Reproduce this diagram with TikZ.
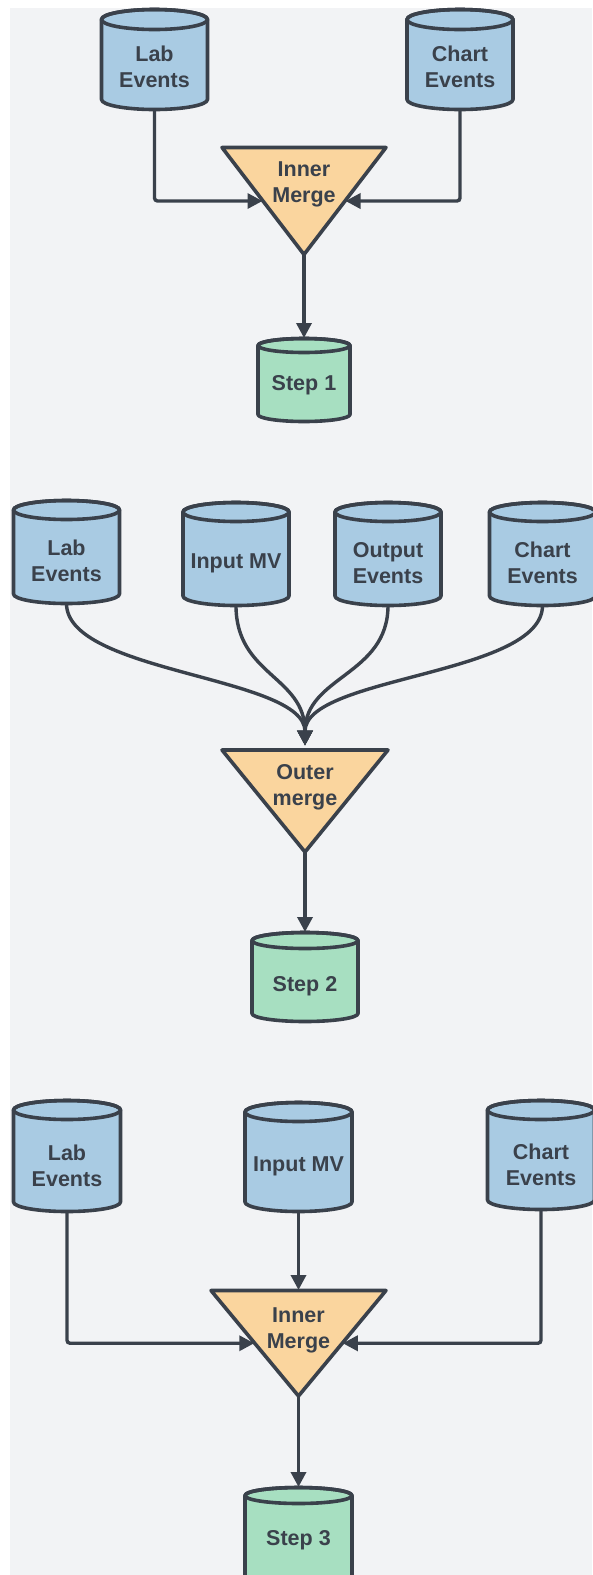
\documentclass[tikz,border=0pt]{standalone}
\usepackage{fontspec}
\setmainfont{Liberation Sans}
\usetikzlibrary{arrows.meta,calc}
\definecolor{ink}{HTML}{3A414B}
\definecolor{canvas}{HTML}{F2F3F5}
\definecolor{dbblue}{HTML}{A9CBE3}
\definecolor{dbgreen}{HTML}{A7DFC1}
\definecolor{mergeorange}{HTML}{FAD59E}
\tikzset{
  dbbox/.style={rectangle, draw=none, inner sep=0pt, outer sep=0pt},
  shapeline/.style={draw=ink, line width=3.6pt, line join=round},
  labeltext/.style={text=ink, align=center, inner sep=0pt,
    font=\bfseries\fontsize{21.5}{26}\selectfont},
  conn/.style={draw=ink, line width=3.4pt, rounded corners=3pt,
    -{Triangle[length=15pt,width=15pt]}, shorten >=0.5pt},
}
% database cylinder: name, cx, cy, width, height, ellipse radius, fill, text shift, text
\newcommand\dbcyl[9]{%
  \node[dbbox, minimum width=#4pt, minimum height=#5pt] (#1) at (#2,-#3) {};
  \begin{scope}[shift={(#2,-#3)}]
    \pgfmathsetmacro\cylhw{#4/2}%
    \pgfmathsetmacro\cylhh{#5/2}%
    \filldraw[shapeline, fill=#7]
      (-\cylhw,\cylhh-#6) -- (-\cylhw,-\cylhh+#6)
      arc[start angle=180, end angle=360, x radius=\cylhw, y radius=#6]
      -- (\cylhw,\cylhh-#6)
      arc[start angle=0, end angle=180, x radius=\cylhw, y radius=#6] -- cycle;
    \draw[shapeline] (0,\cylhh-#6) ellipse[x radius=\cylhw, y radius=#6];
  \end{scope}
  \node[labeltext] (#1-t) at (#2,-#3-#8) {#9};
}
% downward merge triangle: name, cx, top y, half width, height, text shift, text
\newcommand\mergetri[7]{%
  \coordinate (#1-tl) at ({#2-#4},-#3);
  \coordinate (#1-tr) at ({#2+#4},-#3);
  \coordinate (#1-top) at (#2,-#3);
  \coordinate (#1-ap) at (#2,{-(#3+#5)});
  \coordinate (#1-l) at ($(#1-tl)!0.5!(#1-ap)$);
  \coordinate (#1-r) at ($(#1-tr)!0.5!(#1-ap)$);
  \filldraw[shapeline, fill=mergeorange] (#1-tl) -- (#1-tr) -- (#1-ap) -- cycle;
  \node[labeltext] (#1) at (#2,{-(#3+#6)}) {#7};
}
\begin{document}
\begin{tikzpicture}[x=1pt,y=1pt]
\useasboundingbox (0,0) rectangle (592,-1575);
\fill[white] (0,0) rectangle (592,-1575);
\fill[canvas] (10,-8) rectangle (592,-1575);

% first stage: inner merge of lab and chart events
\dbcyl{lab1}{154.5}{59.5}{106}{100}{10}{dbblue}{7.5}{Lab\\Events}
\dbcyl{chart1}{460}{59.5}{106}{100}{10}{dbblue}{7.5}{Chart\\Events}
\mergetri{m1}{304}{147.5}{82}{107}{37}{Inner\\Merge}
\dbcyl{step1}{304}{380}{92}{83}{7}{dbgreen}{5}{Step 1}
\draw[conn] (lab1.south) |- (m1-l);
\draw[conn] (chart1.south) |- (m1-r);
\draw[conn] (m1-ap) -- (step1.north);

% second stage: outer merge of four sources
\dbcyl{lab2}{66.5}{552}{106}{103}{9.5}{dbblue}{9}{Lab\\Events}
\dbcyl{input2}{236}{554}{106}{103}{9.5}{dbblue}{9}{Input MV}
\dbcyl{output2}{388}{554}{106}{103}{9.5}{dbblue}{9}{Output\\Events}
\dbcyl{chart2}{542.5}{554}{106}{103}{9.5}{dbblue}{9}{Chart\\Events}
\mergetri{m2}{305}{750}{83}{102}{37}{Outer\\merge}
\coordinate (m2-in) at (305,-746);
\draw[conn] (lab2.south) .. controls +(0,-70) and +(0,70) .. (m2-in);
\draw[conn] (input2.south) .. controls +(0,-70) and +(0,70) .. (m2-in);
\draw[conn] (output2.south) .. controls +(0,-70) and +(0,70) .. (m2-in);
\draw[conn] (chart2.south) .. controls +(0,-70) and +(0,70) .. (m2-in);
\dbcyl{step2}{305}{977}{106}{89}{8}{dbgreen}{9}{Step 2}
\draw[conn] (m2-ap) -- (step2.north);

% third stage: inner merge with the input view
\dbcyl{lab3}{67}{1156}{107}{111}{9.5}{dbblue}{9.5}{Lab\\Events}
\dbcyl{input3}{298.5}{1157}{107}{109}{9.5}{dbblue}{9.5}{Input MV}
\dbcyl{chart3}{541}{1155}{107}{109}{9.5}{dbblue}{10}{Chart\\Events}
\mergetri{m3}{298.5}{1290.5}{87.5}{105.5}{40}{Inner\\Merge}
\draw[conn] (lab3.south) |- (m3-l);
\draw[conn] (chart3.south) |- (m3-r);
\draw[conn] (input3.south) -- (m3-top);
\dbcyl{step3}{298.5}{1536}{107}{97}{8}{dbgreen}{4}{Step 3}
\draw[conn] (m3-ap) -- (step3.north);
\end{tikzpicture}
\end{document}
